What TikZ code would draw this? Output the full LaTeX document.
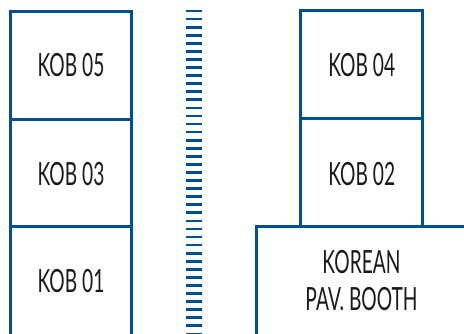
\documentclass[tikz,border=0pt]{standalone}
\usepackage{fontspec}
\setmainfont{Lato}
\definecolor{wallblue}{HTML}{00508F}
\definecolor{txtcol}{HTML}{1A1A1A}
\newcommand{\condtxt}[1]{\scalebox{0.6}[1]{#1}}
\begin{document}
\begin{tikzpicture}[x=1pt,y=-1pt,
  wall/.style={draw=wallblue, line width=3pt},
  lbl/.style={text=txtcol, font=\fontsize{32}{37.5}\selectfont, inner sep=0pt, anchor=base, align=center}]
\useasboundingbox (0,0) rectangle (464,333);
\clip (0,0) rectangle (464,333);
% left column
\draw[wall] (10.7,345) -- (10.7,11.3) -- (131.3,11.3) -- (131.3,345);
\draw[wall] (10.7,119.3) -- (131.3,119.3);
\draw[wall] (10.7,226.3) -- (131.3,226.3);
% right column
\draw[wall] (300.7,226.7) -- (300.7,10.7) -- (422,10.7) -- (422,228);
\draw[wall] (300.7,118.7) -- (422,118.7);
\draw[wall] (256.2,345) -- (256.2,226.7) -- (470,226.7);
% dashed aisle
\draw[wallblue, line width=16pt, dash pattern=on 2.7pt off 5.37pt] (194,9.7) -- (194,333);
% labels
\node[lbl] (k05) at (71,76.7) {\condtxt{KOB 05}};
\node[lbl] (k03) at (71,185) {\condtxt{KOB 03}};
\node[lbl] (k01) at (71,292.7) {\condtxt{KOB 01}};
\node[lbl] (k04) at (361.7,76.7) {\condtxt{KOB 04}};
\node[lbl] (k02) at (361.7,185) {\condtxt{KOB 02}};
\node[lbl, anchor=center] (booth) at (361.5,280.7) {\condtxt{KOREAN}\\\condtxt{PAV. BOOTH}};
\end{tikzpicture}
\end{document}
